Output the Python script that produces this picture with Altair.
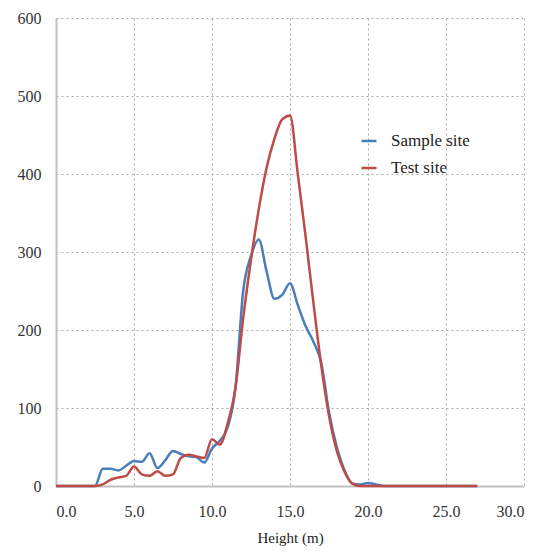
import altair as alt
import pandas as pd

heights = [0.0, 0.5, 1.0, 1.5, 2.0, 2.5, 3.0, 3.5, 4.0, 4.5, 5.0, 5.5, 6.0, 6.5, 7.0, 7.5,
           8.0, 8.5, 9.0, 9.5, 10.0, 10.5, 11.0, 11.5, 12.0, 12.5, 13.0, 13.5, 14.0, 14.5,
           15.0, 15.5, 16.0, 16.5, 17.0, 17.5, 18.0, 18.5, 19.0, 19.5, 20.0, 20.5, 21.0,
           22.0, 23.0, 24.0, 25.0, 26.0, 27.0]

sample_site = [0, 0, 0, 0, 0, 0, 22, 22, 20, 26, 32, 31, 42, 23, 33, 45,
               41, 38, 37, 30, 48, 58, 75, 125, 250, 295, 316, 275, 240, 245,
               260, 232, 205, 185, 158, 95, 50, 20, 3, 2, 4, 2, 0,
               0, 0, 0, 0, 0, 0]

test_site = [0, 0, 0, 0, 0, 0, 2, 8, 11, 13, 25, 15, 13, 19, 13, 15,
             36, 40, 38, 36, 60, 53, 80, 125, 215, 290, 355, 408, 445, 470,
             475, 400, 320, 235, 155, 90, 45, 18, 3, 0, 0, 0, 0,
             0, 0, 0, 0, 0, 0]

series_names = ["Sample site", "Test site"]
series_colors = ["#4A7EBB", "#BE4B48"]

x_ticks = [0, 5, 10, 15, 20, 25, 30]
y_ticks = [0, 100, 200, 300, 400, 500, 600]

rows = []
for name, vals in zip(series_names, [sample_site, test_site]):
    for h, v in zip(heights, vals):
        rows.append({"Height": h, "Value": v, "Site": name})
df = pd.DataFrame(rows)

FONT = "'Times New Roman', 'Liberation Serif', serif"

chart = alt.Chart(df).mark_line(
    interpolate="monotone", strokeWidth=2.5
).encode(
    x=alt.X("Height:Q",
            scale=alt.Scale(domain=[0, 30], nice=False, zero=False),
            axis=alt.Axis(values=x_ticks, format=".1f", title="Height (m)",
                          ticks=False, labelPadding=17, titlePadding=11,
                          labelFontSize=16, titleFontSize=15,
                          labelFont=FONT, titleFont=FONT, titleFontWeight="normal",
                          labelColor="#333333", titleColor="#222222",
                          domainColor="#c0c0c0", domainWidth=2,
                          gridColor="#a8a8a8", gridDash=[2, 3], gridWidth=1)),
    y=alt.Y("Value:Q",
            scale=alt.Scale(domain=[0, 600], nice=False),
            axis=alt.Axis(values=y_ticks, format="d", title=None,
                          ticks=False, labelPadding=15,
                          labelFontSize=16, labelFont=FONT,
                          labelColor="#333333",
                          domainColor="#c0c0c0", domainWidth=2,
                          gridColor="#a8a8a8", gridDash=[2, 3], gridWidth=1)),
    color=alt.Color("Site:N",
                    scale=alt.Scale(domain=series_names, range=series_colors),
                    legend=alt.Legend(title=None, orient="none",
                                      legendX=304, legendY=114,
                                      symbolType="stroke", symbolSize=225,
                                      symbolStrokeWidth=2.5,
                                      labelFont=FONT, labelFontSize=17,
                                      labelColor="#222222", labelOffset=13,
                                      rowPadding=10, padding=0)),
    order=alt.Order("Height:Q"),
).properties(
    width=468, height=468,
    autosize=alt.AutoSizeParams(type="none"),
    padding={"left": 48, "top": 10, "right": 6, "bottom": 62},
).configure_view(stroke=None)

chart.save("out.html", embed_options={"renderer": "svg", "actions": False})
